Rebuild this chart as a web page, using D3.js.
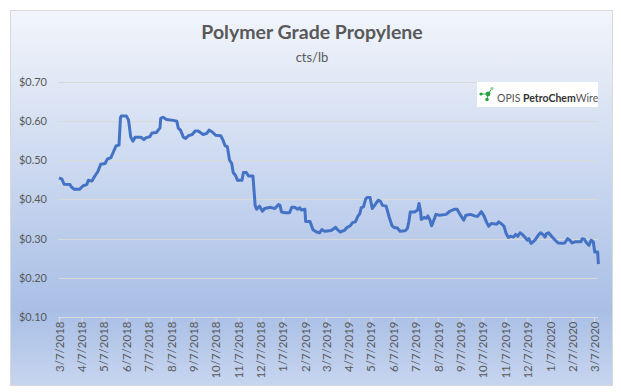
<!DOCTYPE html>
<html>
<head>
<meta charset="utf-8">
<script src="https://cdn.jsdelivr.net/npm/d3@7"></script>
<style>
  body { margin: 0; background: #fff; }
  svg { display: block; font-family: Lato, "Open Sans", sans-serif; }
</style>
</head>
<body>
<svg width="621" height="392"></svg>
<script>
// weekly-ish assessments
const dates = [
  "2018-03-07","2018-03-11","2018-03-14","2018-03-22","2018-03-24","2018-03-28","2018-04-04","2018-04-09",
  "2018-04-14","2018-04-16","2018-04-21","2018-04-25","2018-04-29","2018-05-03","2018-05-09","2018-05-12",
  "2018-05-17","2018-05-20","2018-05-24","2018-05-28","2018-05-30","2018-05-31","2018-06-07","2018-06-10",
  "2018-06-13","2018-06-16","2018-06-19","2018-06-27","2018-07-01","2018-07-04","2018-07-09","2018-07-12",
  "2018-07-18","2018-07-23","2018-07-24","2018-07-27","2018-08-01","2018-08-10","2018-08-15","2018-08-17",
  "2018-08-20","2018-08-24","2018-08-27","2018-08-31","2018-09-05","2018-09-09","2018-09-13","2018-09-20",
  "2018-09-25","2018-09-28","2018-10-02","2018-10-07","2018-10-14","2018-10-17","2018-10-20","2018-10-23",
  "2018-10-26","2018-10-29","2018-10-31","2018-11-03","2018-11-06","2018-11-12","2018-11-14","2018-11-18",
  "2018-11-21","2018-11-27","2018-11-30","2018-12-02","2018-12-06","2018-12-10","2018-12-13","2018-12-21",
  "2018-12-27","2019-01-01","2019-01-03","2019-01-05","2019-01-10","2019-01-16","2019-01-19","2019-01-23",
  "2019-01-27","2019-01-30","2019-02-01","2019-02-06","2019-02-07","2019-02-13","2019-02-17","2019-02-22",
  "2019-02-26","2019-03-01","2019-03-05","2019-03-14","2019-03-20","2019-03-22","2019-03-26","2019-04-01",
  "2019-04-04","2019-04-09","2019-04-12","2019-04-16","2019-04-19","2019-04-22","2019-04-24","2019-04-27",
  "2019-04-30","2019-05-02","2019-05-06","2019-05-09","2019-05-13","2019-05-17","2019-05-20","2019-05-23",
  "2019-05-28","2019-06-01","2019-06-05","2019-06-08","2019-06-12","2019-06-16","2019-06-23","2019-06-26",
  "2019-06-28","2019-06-30","2019-07-06","2019-07-10","2019-07-12","2019-07-14","2019-07-15","2019-07-19",
  "2019-07-22","2019-07-24","2019-07-27","2019-07-29","2019-07-31","2019-08-04","2019-08-09","2019-08-18",
  "2019-08-23","2019-08-29","2019-09-02","2019-09-06","2019-09-11","2019-09-14","2019-09-20","2019-09-26",
  "2019-09-30","2019-10-05","2019-10-09","2019-10-12","2019-10-15","2019-10-19","2019-10-26","2019-10-29",
  "2019-11-02","2019-11-05","2019-11-08","2019-11-11","2019-11-14","2019-11-18","2019-11-21","2019-11-24",
  "2019-11-27","2019-11-30","2019-12-04","2019-12-07","2019-12-09","2019-12-12","2019-12-15","2019-12-18",
  "2019-12-22","2019-12-25","2019-12-28","2019-12-31","2020-01-02","2020-01-05","2020-01-09","2020-01-14",
  "2020-01-18","2020-01-24","2020-01-27","2020-01-31","2020-02-03","2020-02-06","2020-02-10","2020-02-18",
  "2020-02-20","2020-02-23","2020-02-26","2020-02-29","2020-03-03","2020-03-06","2020-03-08","2020-03-12",
  "2020-03-13"
];
const prices = [
  0.455,0.452,0.439,0.438,0.432,0.426,0.426,0.435,
  0.438,0.449,0.447,0.460,0.471,0.490,0.492,0.503,
  0.507,0.520,0.537,0.539,0.609,0.613,0.613,0.603,
  0.560,0.549,0.559,0.559,0.553,0.558,0.560,0.570,
  0.571,0.583,0.607,0.610,0.604,0.602,0.600,0.582,
  0.577,0.559,0.556,0.563,0.566,0.575,0.575,0.566,
  0.569,0.577,0.573,0.564,0.563,0.552,0.537,0.535,
  0.501,0.492,0.469,0.462,0.449,0.449,0.469,0.469,
  0.460,0.460,0.385,0.375,0.383,0.370,0.377,0.380,
  0.377,0.387,0.385,0.368,0.366,0.366,0.380,0.380,
  0.375,0.379,0.373,0.375,0.344,0.344,0.323,0.317,
  0.315,0.323,0.319,0.321,0.329,0.324,0.317,0.321,
  0.328,0.333,0.341,0.343,0.356,0.364,0.379,0.381,
  0.401,0.405,0.405,0.377,0.387,0.398,0.396,0.385,
  0.383,0.356,0.333,0.328,0.328,0.319,0.320,0.326,
  0.343,0.368,0.368,0.373,0.390,0.370,0.349,0.354,
  0.352,0.358,0.347,0.333,0.341,0.362,0.360,0.362,
  0.370,0.375,0.375,0.362,0.347,0.360,0.362,0.358,
  0.357,0.369,0.357,0.343,0.332,0.339,0.337,0.343,
  0.337,0.332,0.313,0.303,0.306,0.304,0.311,0.306,
  0.315,0.311,0.303,0.296,0.300,0.288,0.292,0.298,
  0.309,0.315,0.311,0.304,0.313,0.315,0.306,0.296,
  0.289,0.288,0.289,0.300,0.296,0.289,0.292,0.292,
  0.300,0.298,0.289,0.283,0.296,0.292,0.266,0.266,
  0.235
];
const xTickLabels = ["3/7/2018","4/7/2018","5/7/2018","6/7/2018","7/7/2018","8/7/2018","9/7/2018",
  "10/7/2018","11/7/2018","12/7/2018","1/7/2019","2/7/2019","3/7/2019","4/7/2019","5/7/2019",
  "6/7/2019","7/7/2019","8/7/2019","9/7/2019","10/7/2019","11/7/2019","12/7/2019","1/7/2020",
  "2/7/2020","3/7/2020"];
const yTicks = [0.10, 0.20, 0.30, 0.40, 0.50, 0.60, 0.70];

const parseIso = d3.timeParse("%Y-%m-%d");
const parseTick = d3.timeParse("%-m/%-d/%Y");
const data = dates.map((d, i) => ({ date: parseIso(d), price: prices[i] }));
const tickDates = xTickLabels.map(parseTick);

const svg = d3.select("svg");

// chart area background
const grad = svg.append("defs").append("linearGradient")
    .attr("id", "bg").attr("x1", 0).attr("y1", 0).attr("x2", 0).attr("y2", 1);
grad.append("stop").attr("offset", "0%").attr("stop-color", "#f2f5fb");
grad.append("stop").attr("offset", "80%").attr("stop-color", "#a9bfe6");
grad.append("stop").attr("offset", "100%").attr("stop-color", "#c7d5ef");

svg.append("rect")
    .attr("x", 10.5).attr("y", 10.5)
    .attr("width", 602).attr("height", 375)
    .attr("fill", "url(#bg)")
    .attr("stroke", "#d9d9d9");

const left = 58, right = 598;
let x = d3.scaleTime().domain([tickDates[0], tickDates[tickDates.length - 1]]).range([59, 594]);
let y = d3.scaleLinear().domain([0.10, 0.70]).range([317, 82]);

// gridlines
svg.append("g").selectAll("line")
    .data(yTicks.slice(1))
    .enter().append("line")
    .attr("x1", left).attr("x2", right)
    .attr("y1", d => Math.round(y(d)) + 0.5)
    .attr("y2", d => Math.round(y(d)) + 0.5)
    .attr("stroke", "#d9d9d9");

// y labels
svg.append("g").selectAll("text")
    .data(yTicks)
    .enter().append("text")
    .attr("x", 47)
    .attr("y", d => y(d))
    .attr("dy", "0.35em")
    .attr("text-anchor", "end")
    .attr("font-size", 11)
    .attr("fill", "#595959")
    .text(d3.format("$.2f"));

// x axis
const xAxis = d3.axisBottom(x)
    .tickValues(tickDates)
    .tickSize(5)
    .tickSizeOuter(0)
    .tickFormat((d, i) => xTickLabels[i]);

const gx = svg.append("g")
    .attr("transform", `translate(0,${Math.round(y(0.10)) + 0.5})`)
    .call(xAxis);
gx.select(".domain").attr("d", `M${left},0H${right}`).attr("stroke", "#d9d9d9");
gx.selectAll(".tick line").attr("stroke", "#d9d9d9");
gx.selectAll(".tick text")
    .attr("transform", "rotate(-90)")
    .attr("text-anchor", "end")
    .attr("x", -4)
    .attr("y", 0)
    .attr("dy", "0.35em")
    .attr("font-size", 11.5)
    .attr("font-family", "Lato, sans-serif")
    .attr("fill", "#595959");

// price line
const line = d3.line()
    .x(d => x(d.date))
    .y(d => y(d.price));

svg.append("path")
    .datum(data)
    .attr("fill", "none")
    .attr("stroke", "#4472c4")
    .attr("stroke-width", 3)
    .attr("stroke-linejoin", "round")
    .attr("d", line);

// titles
svg.append("text")
    .attr("x", 312).attr("y", 39)
    .attr("text-anchor", "middle")
    .attr("font-size", 19.5)
    .attr("font-weight", "bold")
    .attr("fill", "#595959")
    .text("Polymer Grade Propylene");

svg.append("text")
    .attr("x", 312).attr("y", 62)
    .attr("text-anchor", "middle")
    .attr("font-size", 13)
    .attr("fill", "#595959")
    .text("cts/lb");

// logo box
const logo = svg.append("g");
logo.append("rect")
    .attr("x", 477).attr("y", 82)
    .attr("width", 121).attr("height", 25)
    .attr("fill", "#fff");
const nodes = [[481, 94, 1.6], [488, 94, 2.4], [487, 99.5, 1.8], [492, 88.5, 1.6]];
nodes.forEach(n => {
    logo.append("line")
        .attr("x1", 488).attr("y1", 94).attr("x2", n[0]).attr("y2", n[1])
        .attr("stroke", "#3cae49").attr("stroke-width", 1);
});
logo.selectAll("circle")
    .data(nodes)
    .enter().append("circle")
    .attr("cx", d => d[0]).attr("cy", d => d[1]).attr("r", d => d[2])
    .attr("fill", (d, i) => i === 3 ? "#8fd19a" : "#27a243");
const logoText = logo.append("text")
    .attr("x", 497).attr("y", 101.5)
    .attr("font-size", 10.5)
    .attr("fill", "#555");
logoText.append("tspan").text("OPIS ");
logoText.append("tspan").attr("font-weight", "bold").attr("fill", "#333").text("PetroChem");
logoText.append("tspan").text("Wire");
</script>
</body>
</html>
